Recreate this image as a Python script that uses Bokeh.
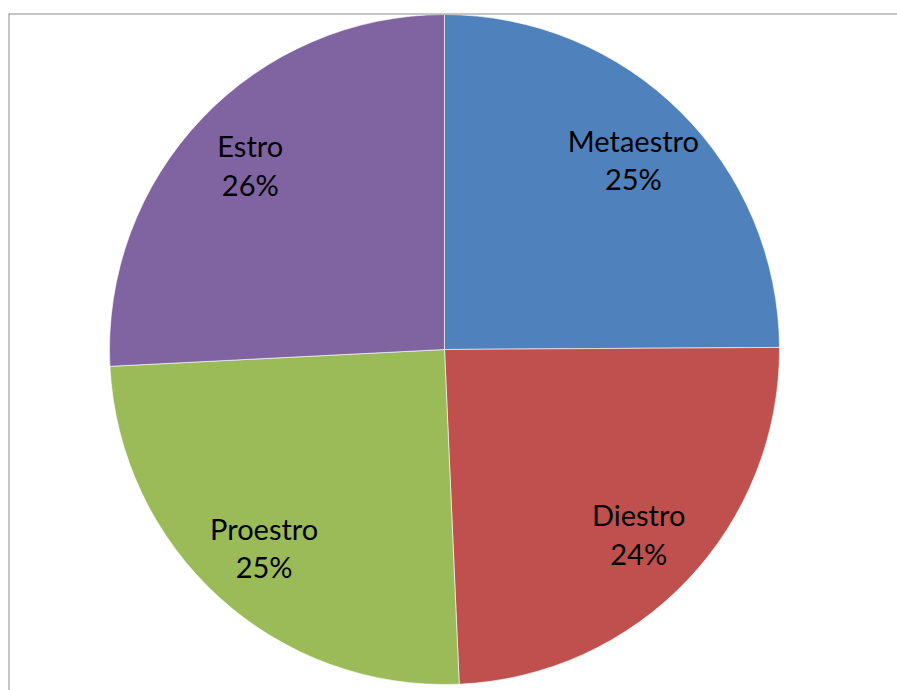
import math
from bokeh.plotting import figure
from bokeh.models import ColumnDataSource, Range1d, Span
from bokeh.core.properties import value
from bokeh.embed import file_html
from bokeh.resources import INLINE

# Data
phases = ["Metaestro", "Diestro", "Proestro", "Estro"]
shares = [24.9, 24.4, 24.9, 25.8]
colors = ["#4F81BD", "#C0504D", "#9BBB59", "#8064A2"]

R = 335
total = sum(shares)
starts, ends, lx, ly, labels = [], [], [], [], []
cum = 0.0
for name, v in zip(phases, shares):
    f0 = cum / total
    cum += v
    f1 = cum / total
    starts.append(math.pi / 2 - f0 * 2 * math.pi)
    ends.append(math.pi / 2 - f1 * 2 * math.pi)
    mid = (f0 + f1) / 2 * 2 * math.pi
    lx.append(0.8 * R * math.sin(mid))
    ly.append(0.8 * R * math.cos(mid))
    labels.append(f"{name}\n{round(v / total * 100)}%")

src = ColumnDataSource(dict(start=starts, end=ends, color=colors,
                            lx=lx, ly=ly, label=labels))

p = figure(width=897, height=690, output_backend="svg", toolbar_location=None,
           x_range=Range1d(-436, 453), y_range=Range1d(-341, 336),
           min_border_left=8, min_border_right=0, min_border_top=13,
           min_border_bottom=0)
p.axis.visible = False
p.grid.visible = False
p.outline_line_color = None
p.background_fill_color = "white"
p.border_fill_color = "white"

p.wedge(x=0, y=0, radius=R, start_angle="start", end_angle="end",
        direction="clock", fill_color="color", line_color="white",
        line_alpha=0.6, line_width=1, source=src)

p.text(x="lx", y="ly", text="label", source=src, text_align="center",
       text_baseline="middle", text_font=value("Lato"),
       text_font_size="29px", text_color="black", text_line_height=1.1)

p.add_layout(Span(location=-436, dimension="height", line_color="#8C8C8C",
                  line_width=2))
p.add_layout(Span(location=336, dimension="width", line_color="#8C8C8C",
                  line_width=2))

open("out.html", "w").write(file_html(p, INLINE))
